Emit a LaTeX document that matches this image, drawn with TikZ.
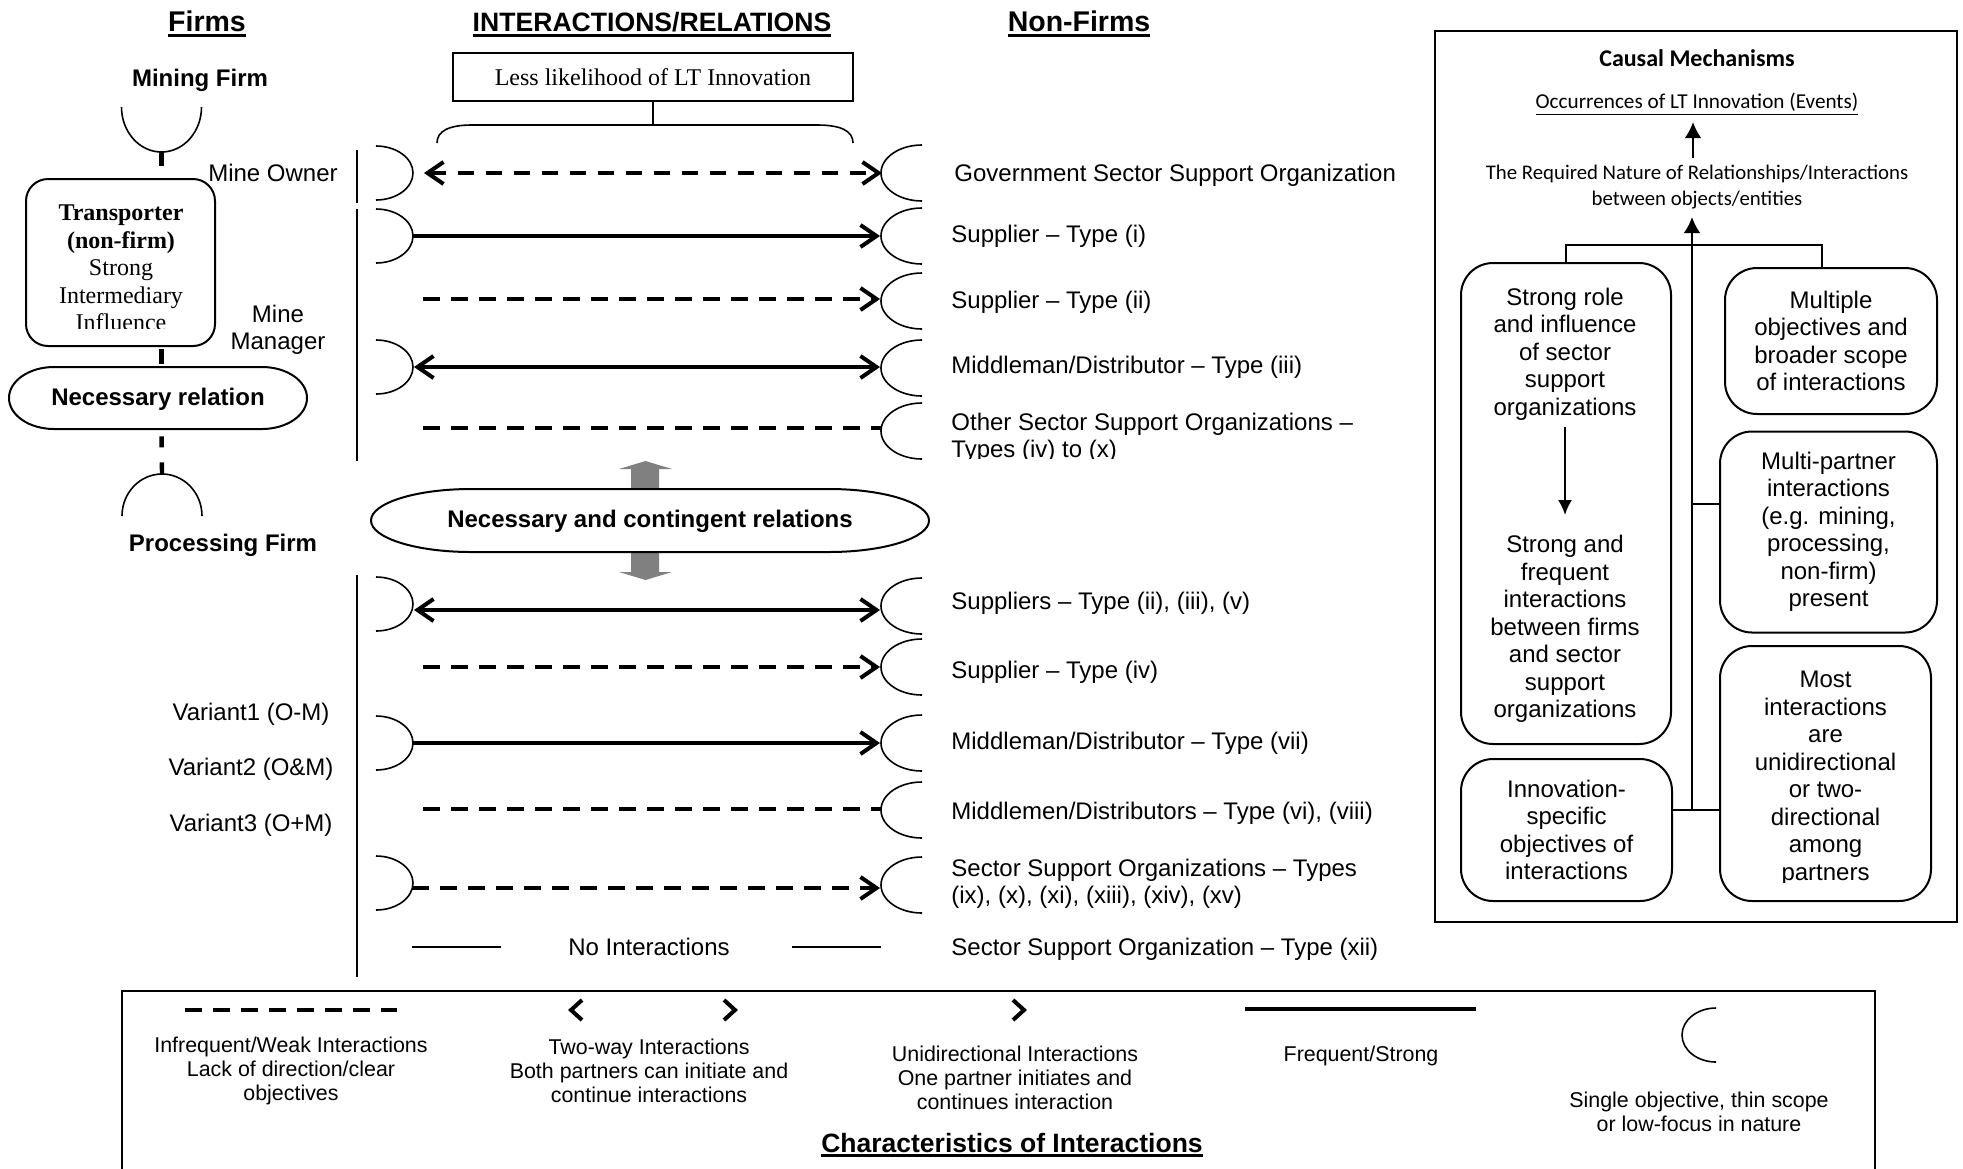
\documentclass[tikz,border=0pt]{standalone}
\usepackage{fontspec}
\setmainfont{Liberation Sans}
\newfontfamily\serifrm{Liberation Serif}
\newfontfamily\calibrifont{Carlito}
\usetikzlibrary{arrows.meta}
\definecolor{arrowgray}{RGB}{128,128,128}
% thick underline for headings
\newcommand{\ulbar}[1]{\setbox0\hbox{#1}\rlap{\rule[-2.5pt]{\wd0}{1.3pt}}\box0}

\begin{document}
\begin{tikzpicture}[x=0.5pt,y=-0.5pt,
  every node/.style={inner sep=0pt},
  txt/.style={font=\fontsize{12}{13.75}\selectfont},
  ctr/.style={txt,anchor=base,yshift=-4.3pt},
  lbl/.style={txt,anchor=base west,yshift=-4.3pt},
  bctr/.style={anchor=base,yshift=-4.3pt,font=\fontsize{12}{13.75}\selectfont\bfseries},
  ttl/.style={anchor=base,font=\fontsize{14.25}{16}\selectfont\bfseries},
  lg/.style={font=\fontsize{10.7}{12}\selectfont,align=center},
  cbox/.style={draw,line width=1pt,rounded corners=16pt},
  cbtxt/.style={font=\fontsize{12}{13.75}\selectfont,align=center},
  capline/.style={line width=0.8pt},
  link/.style={line width=2pt},
  weak/.style={link,dash pattern=on 8.25pt off 5.75pt},
  thinline/.style={line width=0.8pt},
  vlink/.style={line width=2.2pt},
  causal/.style={line width=1pt},
  rise/.style={causal,-{Latex[length=8pt,width=8.3pt]}},
  >={Straight Barb[length=8pt,width=11pt]},
  lcap/.pic={\draw[capline] (0,-27) arc[start angle=90,end angle=-90,x radius=18.5pt,y radius=13.5pt];},
  rcap/.pic={\draw[capline] (0,-28) arc[start angle=90,end angle=270,x radius=20.5pt,y radius=14pt];}
]
\useasboundingbox (0,0) rectangle (1963,1168);

% ---------- column headings ----------
\node[ttl] (tfirm) at (207,31.5) {\ulbar{Firms}};
\node[ttl,font=\fontsize{13.3}{16}\selectfont\bfseries] (tint) at (652,31.5) {\ulbar{INTERACTIONS/RELATIONS}};
\node[ttl] (tnon) at (1079,31.5) {\ulbar{Non-Firms}};

% ---------- firms column ----------
\node[bctr] (mining) at (200,78) {Mining Firm};
\draw[capline] (121.5,107) arc[start angle=180,end angle=360,x radius=20pt,y radius=22.5pt];
\coordinate (mcup) at (161.5,152);

\node[draw,line width=1pt,rounded corners=11pt,minimum width=94.5pt,minimum height=83.5pt] (trans) at (120.5,262.5) {};
\begin{scope}
  \clip (20,170) rectangle (220,328.5);
  \node[font=\serifrm\fontsize{12}{13.75}\selectfont,align=center] (transtxt) at (121,268)
    {\textbf{Transporter}\\\textbf{(non-firm)}\\Strong\\Intermediary\\Influence};
\end{scope}

\draw[line width=1pt,fill=white] (54,367) -- (262,367)
  arc[start angle=90,end angle=-90,x radius=22.5pt,y radius=15.5pt] -- (54,429)
  arc[start angle=270,end angle=90,x radius=22.5pt,y radius=15.5pt] -- cycle;
\node[minimum width=149pt,minimum height=31pt,font=\fontsize{12}{13.75}\selectfont\bfseries] (nrel) at (158,399) {Necessary relation};

\draw[capline] (122,516) arc[start angle=180,end angle=0,x radius=20pt,y radius=21pt];
\coordinate (pcap) at (162,474);
\node[bctr] (proc) at (223,543) {Processing Firm};

\draw[vlink,dash pattern=on 7pt off 20pt] (mcup) -- (mcup |- trans.north);
\draw[vlink,dash pattern=on 0pt off 1pt on 7.5pt off 20pt] (trans.south -| mcup) -- (nrel.north -| mcup);
\draw[vlink,dash pattern=on 0pt off 3pt on 5.5pt off 7.5pt on 7pt off 20pt] (nrel.south -| mcup) -- (pcap);

\node[ctr] (owner) at (273,173) {Mine Owner};
\node[txt,align=center] (manager) at (278,330) {Mine\\Manager};
\node[ctr] (v1) at (251,712) {Variant1 (O-M)};
\node[ctr] (v2) at (251,767) {Variant2 (O\&M)};
\node[ctr] (v3) at (251,823) {Variant3 (O+M)};

% firm-side separators
\coordinate (s1a) at (357,150); \coordinate (s1b) at (357,203);
\coordinate (s2a) at (357,209); \coordinate (s2b) at (357,461);
\coordinate (s3a) at (357,575); \coordinate (s3b) at (357,977);
\draw[line width=1pt] (s1a) -- (s1b);
\draw[line width=1pt] (s2a) -- (s2b);
\draw[line width=1pt] (s3a) -- (s3b);

% ---------- likelihood box and brace ----------
\node[draw,line width=0.9pt,minimum width=200pt,minimum height=24pt,font=\serifrm\fontsize{12}{14}\selectfont] (less) at (653,77) {Less likelihood of LT Innovation};
\coordinate (bmid) at (653,125);
\coordinate (bl) at (437,143);
\coordinate (br) at (853,143);
\draw[thinline] (less.south) -- (bmid);
\draw[thinline] (bl) .. controls (437,131) and (449,125) .. (472,125) -- (817,125) .. controls (841,125) and (853,131) .. (br);

% ---------- interaction rows (upper group) ----------
\pic at (376,173) {lcap}; \pic at (922,173) {rcap};
\coordinate (a1) at (424,173); \coordinate (b1) at (882,173);
\draw[weak,<->] (a1) -- (b1);

\pic at (376,236) {lcap}; \pic at (922,236) {rcap};
\coordinate (a2) at (413,236); \coordinate (b2) at (880,236);
\draw[link,->] (a2) -- (b2);

\pic at (922,301) {rcap};
\coordinate (a3) at (423,299); \coordinate (b3) at (880,299);
\draw[weak,->] (a3) -- (b3);

\pic at (376,367) {lcap}; \pic at (922,368) {rcap};
\coordinate (a4) at (414,367); \coordinate (b4) at (880,367);
\draw[link,<->] (a4) -- (b4);

\pic at (922,431) {rcap};
\coordinate (a5) at (423,428); \coordinate (b5) at (881,428);
\draw[weak] (a5) -- (b5);

% ---------- central relation ----------
\fill[arrowgray] (631,489) -- (631,469) -- (619,469) -- (645.5,461) -- (672,469) -- (659,469) -- (659,489) -- cycle;
\fill[arrowgray] (631,552) -- (631,572) -- (619,572) -- (645.5,580) -- (672,572) -- (659,572) -- (659,552) -- cycle;
\draw[line width=1pt,fill=white] (471,489) -- (829,489)
  arc[start angle=90,end angle=-90,x radius=50pt,y radius=15.75pt] -- (471,552)
  arc[start angle=270,end angle=90,x radius=50pt,y radius=15.75pt] -- cycle;
\node[minimum width=279pt,minimum height=31.5pt,font=\fontsize{12}{13.75}\selectfont\bfseries] (ncr) at (650,521.5) {Necessary and contingent relations};

% ---------- interaction rows (lower group) ----------
\pic at (376,604) {lcap}; \pic at (922,606) {rcap};
\coordinate (a6) at (414,610); \coordinate (b6) at (880,610);
\draw[link,<->] (a6) -- (b6);

\pic at (922,667) {rcap};
\coordinate (a7) at (423,667); \coordinate (b7) at (880,667);
\draw[weak,->] (a7) -- (b7);

\pic at (376,743) {lcap}; \pic at (922,743) {rcap};
\coordinate (a8) at (412,743); \coordinate (b8) at (880,743);
\draw[link,->] (a8) -- (b8);

\pic at (922,810) {rcap};
\coordinate (a9) at (423,809); \coordinate (b9) at (881,809);
\draw[weak] (a9) -- (b9);

\pic at (376,883) {lcap}; \pic at (922,885) {rcap};
\coordinate (a10) at (412,888); \coordinate (b10) at (880,888);
\draw[weak,->] (a10) -- (b10);

\node[ctr] (noint) at (649,947) {No Interactions};
\coordinate (a11) at (412,947); \coordinate (c11) at (501,947);
\coordinate (d11) at (792,947); \coordinate (b11) at (881,947);
\draw[thinline] (a11) -- (c11);
\draw[thinline] (d11) -- (b11);

% ---------- non-firm labels ----------
\node[lbl] (r1) at (954,173) {Government Sector Support Organization};
\node[lbl] (r2) at (951,234) {Supplier – Type (i)};
\node[lbl] (r3) at (951,300) {Supplier – Type (ii)};
\node[lbl] (r4) at (951,365) {Middleman/Distributor – Type (iii)};
\begin{scope}
  \clip (940,400) rectangle (1420,458);
  \node[txt,align=left,anchor=west] (r5) at (951,438) {Other Sector Support Organizations –\\Types (iv) to (x)};
\end{scope}
\node[lbl] (r6) at (951,601) {Suppliers – Type (ii), (iii), (v)};
\node[lbl] (r7) at (951,670) {Supplier – Type (iv)};
\node[lbl] (r8) at (951,741) {Middleman/Distributor – Type (vii)};
\node[lbl] (r9) at (951,811) {Middlemen/Distributors – Type (vi), (viii)};
\node[txt,align=left,anchor=west] (r10) at (951,884) {Sector Support Organizations – Types\\(ix), (x), (xi), (xiii), (xiv), (xv)};
\node[lbl] (r11) at (951,947) {Sector Support Organization – Type (xii)};

% ---------- causal mechanisms panel ----------
\node[draw,line width=1pt,minimum width=261pt,minimum height=445.5pt] (cm) at (1696,476.5) {};
\node[font=\calibrifont\bfseries\fontsize{12}{14}\selectfont] (cmt) at (1697,58) {Causal Mechanisms};
\node[font=\calibrifont\fontsize{10.6}{13}\selectfont] (occ) at (1697,104) {\underline{Occurrences of LT Innovation (Events)}};
\node[font=\calibrifont\fontsize{10.4}{13}\selectfont,align=center] (req) at (1697,187) {The Required Nature of Relationships/Interactions\\between objects/entities};
\coordinate (reqtop) at (1693,158);
\coordinate (occbot) at (1693,122);
\draw[rise] (reqtop) -- (occbot);

\node[cbox,minimum width=105pt,minimum height=240.5pt] (cb1) at (1566,503.5) {};
\node[cbtxt] (cb1a) at (1565,354) {Strong role\\and influence\\of sector\\support\\organizations};
\node[cbtxt] (cb1b) at (1565,629) {Strong and\\frequent\\interactions\\between firms\\and sector\\support\\organizations};
\coordinate (c1s) at (1565,427);
\coordinate (c1e) at (1565,515);
\draw[causal,-{Latex[length=7.5pt,width=7pt]}] (c1s) -- (c1e);

\node[cbox,cbtxt,minimum width=106pt,minimum height=73pt] (cb2) at (1831,341) {Multiple\\objectives and\\broader scope\\of interactions};
\node[cbox,cbtxt,minimum width=108.5pt,minimum height=100.5pt] (cb3) at (1828.5,532) {Multi-partner\\interactions\\(e.g. mining,\\processing,\\non-firm)\\present};
\node[cbox,minimum width=105.5pt,minimum height=127.5pt] (cb4) at (1825.5,773.5) {};
\begin{scope}
  \clip (1700,640) rectangle (1950,882);
  \node[cbtxt] (cb4t) at (1825.5,778) {Most\\interactions\\are\\unidirectional\\or two-\\directional\\among\\partners};
\end{scope}
\node[cbox,cbtxt,minimum width=105.5pt,minimum height=71pt] (cb5) at (1566.5,830) {Innovation-\\specific\\objectives of\\interactions};

\coordinate (tb) at (1692,810);
\coordinate (tt) at (1692,217);
\coordinate (mp) at (1692,504);
\coordinate (barr) at (1822,245);
\coordinate (cb2in) at (1822,268);
\draw[rise] (tb) -- (tt);
\draw[causal] (cb1.north) |- (barr) -- (cb2in);
\draw[causal] (cb5.east |- tb) -- (cb4.west |- tb);
\draw[causal] (mp) -- (cb3.west |- mp);

% ---------- legend ----------
\draw[line width=1pt] (122,991) rectangle (1875,1190);
\coordinate (lw1) at (185,1010); \coordinate (lw2) at (397,1010);
\draw[weak] (lw1) -- (lw2);
\node[lg] (lgw) at (291,1071) {Infrequent/Weak Interactions\\Lack of direction/clear\\objectives};

\draw[link,line join=miter] (582,1000) -- (571,1010) -- (582,1020);
\draw[link,line join=miter] (724,1000) -- (735,1010) -- (724,1020);
\node[lg] (lgt) at (649,1071) {Two-way Interactions\\Both partners can initiate and\\continue interactions};

\draw[link,line join=miter] (1013,1000) -- (1024,1010) -- (1013,1020);
\node[lg] (lgu) at (1015,1078) {Unidirectional Interactions\\One partner initiates and\\continues interaction};

\coordinate (ls1) at (1245,1009); \coordinate (ls2) at (1476,1009);
\draw[link] (ls1) -- (ls2);
\node[lg,anchor=base,yshift=-3.8pt] (lgs) at (1361,1054) {Frequent/Strong};

\draw[capline] (1716,1008) arc[start angle=90,end angle=270,x radius=17pt,y radius=13.5pt];
\node[lg] (lgc) at (1699,1112) {Single objective, thin scope\\or low-focus in nature};

\node[anchor=base,font=\fontsize{13.25}{16}\selectfont\bfseries] (lgt2) at (1012,1152) {\ulbar{Characteristics of Interactions}};

\end{tikzpicture}
\end{document}
